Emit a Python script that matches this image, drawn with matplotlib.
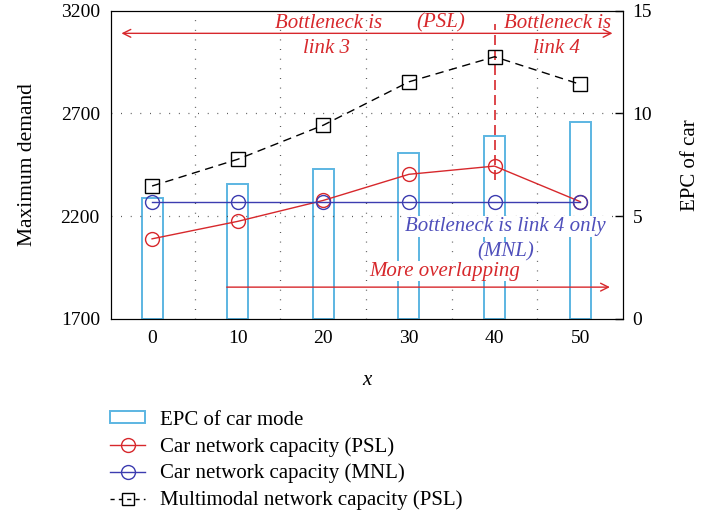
import matplotlib
matplotlib.use("Agg")
import matplotlib.pyplot as plt
from matplotlib.patches import Patch
from matplotlib.lines import Line2D

plt.rcParams['font.family'] = ['Liberation Serif', 'DejaVu Serif']

# data
x = [0, 10, 20, 30, 40, 50]
epc_car = [5.88, 6.58, 7.31, 8.08, 8.91, 9.6]
car_psl = [2090, 2175, 2277, 2404, 2444, 2271]
car_mnl = [2271, 2271, 2271, 2271, 2271, 2271]
multi_psl = [2347, 2477, 2643, 2854, 2976, 2842]
left_ticks = [1700, 2200, 2700, 3200]
right_ticks = [0, 5, 10, 15]

RED = '#d7282c'
BLUE = '#3c3cb0'
BLUE_TXT = '#4f4fbb'
SKY = '#5cb6e2'

fig = plt.figure(figsize=(7.01, 5.18), dpi=100)
ax = fig.add_axes([0.1583, 0.3842, 0.7304, 0.5951])
ax2 = ax.twinx()

# bars (right axis)
ax2.bar(x, epc_car, width=2.45, facecolor='none', edgecolor=SKY, linewidth=1.4)
ax2.set_ylim(0, 15)
ax2.set_yticks(right_ticks)
ax2.tick_params(axis='y', direction='in', length=6, width=1, labelsize=14, pad=7)
ax2.set_ylabel('EPC of car', fontsize=15, labelpad=21)

# lines (left axis)
ax.plot(x, car_psl, color=RED, lw=1, marker='o', ms=10, mfc='none', mec=RED, mew=1, zorder=5)
ax.plot(x, car_mnl, color=BLUE, lw=1, marker='o', ms=10, mfc='none', mec=BLUE, mew=1, zorder=5)
ax.plot(x, multi_psl, color='black', lw=1, ls=(0, (6, 4)), marker='s', ms=10, mfc='none',
        mec='black', mew=1, zorder=5)

ax.set_xlim(-4.8, 55)
ax.set_ylim(1700, 3200)
ax.set_xticks(x)
ax.set_yticks(left_ticks)
ax.tick_params(axis='y', length=0, labelsize=14, pad=8)
ax.tick_params(axis='x', length=0, labelsize=14, pad=8)
ax.set_xlabel('x', fontsize=15, style='italic', labelpad=17)
ax.set_ylabel('Maximum demand', fontsize=15.5, labelpad=17)
ax.set_zorder(ax2.get_zorder() + 1)
ax.patch.set_visible(False)

# dotted grid
dots = dict(color='#444444', lw=0.9, ls=(0, (0.7, 7)))
for gy in [2200, 2700]:
    ax.axhline(gy, **dots, zorder=1)
for gx in [5, 15, 25, 35, 45]:
    ax.axvline(gx, **dots, zorder=1)

# annotations
ax.annotate('', xy=(-3.9, 3090), xytext=(54.1, 3090),
            arrowprops=dict(arrowstyle='<->', color=RED, lw=1, mutation_scale=14))
ax.plot([40, 40], [2374, 3133], color=RED, lw=1.2, ls=(0, (6, 3)), zorder=4)
ax.annotate('', xy=(53.8, 1855), xytext=(8.4, 1855),
            arrowprops=dict(arrowstyle='->', color=RED, lw=1, mutation_scale=14))

tkw = dict(fontsize=15, style='italic', ha='center', va='center')
ax.text(20.6, 3140, 'Bottleneck is', color=RED, **tkw)
ax.text(20.4, 3018, 'link 3', color=RED, **tkw)
ax.text(33.7, 3140, '(PSL)', color=RED, **tkw)
ax.text(47.4, 3140, 'Bottleneck is', color=RED, **tkw)
ax.text(47.2, 3018, 'link 4', color=RED, **tkw)
box = dict(facecolor='white', edgecolor='none', pad=0.5)
ax.text(41.3, 2150, 'Bottleneck is link 4 only', color=BLUE_TXT, bbox=box, **tkw)
ax.text(41.3, 2026, '(MNL)', color=BLUE_TXT, bbox=box, **tkw)
ax.text(34.2, 1932, 'More overlapping', color=RED, bbox=box, **tkw)

handles = [
    Patch(facecolor='none', edgecolor=SKY, linewidth=1.4),
    Line2D([], [], color=RED, lw=1, marker='o', ms=10, mfc='none'),
    Line2D([], [], color=BLUE, lw=1, marker='o', ms=10, mfc='none'),
    Line2D([], [], color='black', lw=1, ls=(0, (3, 3)), marker='s', ms=8, mfc='none'),
]
labels = ['EPC of car mode', 'Car network capacity (PSL)', 'Car network capacity (MNL)',
          'Multimodal network capacity (PSL)']
fig.legend(handles, labels, loc='upper left', bbox_to_anchor=(0.157, 0.207), frameon=False,
           fontsize=15, handlelength=1.7, handleheight=0.5, labelspacing=0.34, borderaxespad=0,
           borderpad=0, handletextpad=0.72)

plt.savefig('out.png', dpi=100)
